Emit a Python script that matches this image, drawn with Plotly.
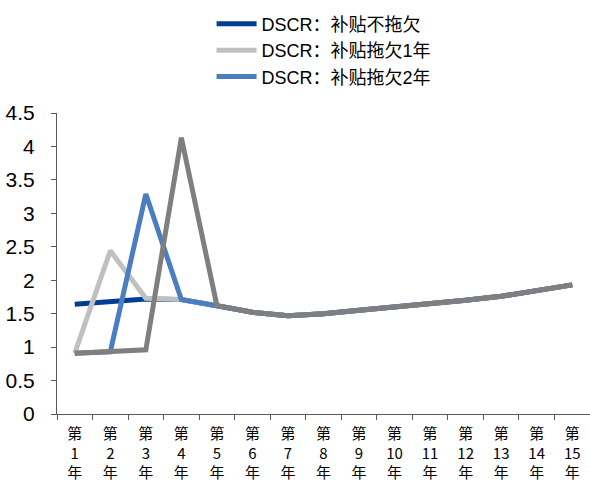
import plotly.graph_objects as go

# Years 1..15 along the x axis
years = [f"第{i}年" for i in range(1, 16)]
year_ticktext = [f"第<br>{i}<br>年" for i in range(1, 16)]

# DSCR series under the different subsidy-arrears scenarios
dscr_no_arrears = [1.64, 1.68, 1.72, 1.71, 1.62, 1.52, 1.47, 1.50, 1.55, 1.60, 1.64, 1.70, 1.76, 1.84, 1.93]
dscr_arrears_1y = [0.91, 2.44, 1.73, 1.71, 1.62, 1.52, 1.47, 1.50, 1.55, 1.60, 1.64, 1.70, 1.76, 1.84, 1.93]
dscr_arrears_2y = [0.91, 0.93, 3.29, 1.71, 1.62, 1.52, 1.47, 1.50, 1.55, 1.60, 1.64, 1.70, 1.76, 1.84, 1.93]
dscr_arrears_3y = [0.91, 0.93, 0.96, 4.13, 1.62, 1.52, 1.47, 1.50, 1.55, 1.60, 1.64, 1.70, 1.76, 1.84, 1.93]

y_ticks = [0, 0.5, 1, 1.5, 2, 2.5, 3, 3.5, 4, 4.5]
y_ticktext = ["0", "0.5", "1", "1.5", "2", "2.5", "3", "3.5", "4", "4.5"]

series = [
    ("DSCR：补贴不拖欠", dscr_no_arrears, "#003D96", True),
    ("DSCR：补贴拖欠1年", dscr_arrears_1y, "#C0C0C0", True),
    ("DSCR：补贴拖欠2年", dscr_arrears_2y, "#4A7EC1", True),
    ("DSCR：补贴拖欠3年", dscr_arrears_3y, "#7F7F7F", False),
]

fig = go.Figure()
for name, vals, color, show in series:
    fig.add_trace(go.Scatter(
        x=years, y=vals, name=name, mode="lines", showlegend=show,
        line=dict(color=color, width=5),
    ))

font_family = "Liberation Sans, Noto Sans CJK SC, sans-serif"

fig.update_layout(
    width=590, height=492,
    margin=dict(l=57, r=0, t=113, b=78, autoexpand=False),
    paper_bgcolor="white", plot_bgcolor="white",
    font=dict(family=font_family, color="#000000"),
    legend=dict(
        x=0.29, y=1.357, xanchor="left", yanchor="top",
        font=dict(size=18, family=font_family),
        tracegroupgap=0, itemwidth=40,
        bgcolor="rgba(0,0,0,0)",
    ),
    xaxis=dict(
        type="category", range=[-0.5, 14.5],
        tickmode="array", tickvals=years, ticktext=year_ticktext,
        tickson="boundaries", ticks="outside", ticklen=5,
        tickcolor="#595959", showline=True, linecolor="#595959", linewidth=1,
        showgrid=False, tickangle=0, automargin=False,
        tickfont=dict(size=15, family="Noto Sans CJK SC, sans-serif"),
        ticklabelstandoff=6,
    ),
    yaxis=dict(
        range=[0, 4.5], tickmode="array", tickvals=y_ticks, ticktext=y_ticktext,
        ticks="outside", ticklen=5, tickcolor="#595959",
        showline=True, linecolor="#595959", linewidth=1,
        showgrid=False, zeroline=False, automargin=False,
        tickfont=dict(size=21, family=font_family),
        ticklabelstandoff=12,
    ),
)

fig.write_html("out.html")
